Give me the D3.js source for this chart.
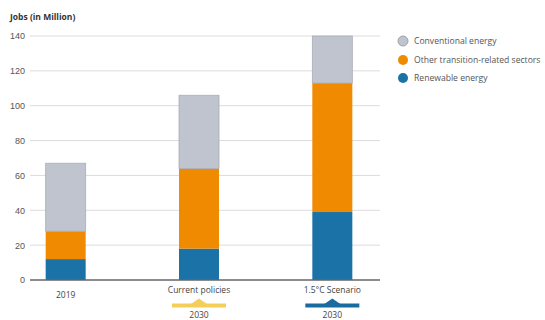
<!DOCTYPE html>
<html><head><meta charset="utf-8">
<script src="https://cdn.jsdelivr.net/npm/d3@7"></script>
<style>body{margin:0;background:#fff;}svg{display:block;font-family:"Open Sans",sans-serif;}</style>
</head><body><svg id="c" width="545" height="320"></svg>
<script>
const categories = ["2019", "Current policies", "1.5°C Scenario"];
const subLabels = ["", "2030", "2030"];
const renewable = [12, 18, 39];
const otherTransition = [16, 46, 74];
const conventional = [39, 42, 27];
const seriesNames = ["Conventional energy", "Other transition-related sectors", "Renewable energy"];
const yTicks = [0, 20, 40, 60, 80, 100, 120, 140];
const colors = {renewable:"#1a72a6", other:"#f08a00", conventional:"#c0c4cf"};
const markerColors = [null, "#f3cf5a", "#1a6c9e"];

const svg = d3.select("#c");
const x = d3.scaleBand().domain(categories).range([0, 400]).paddingInner(0.7).paddingOuter(0.35);
const y = d3.scaleLinear().domain([0, 140]).range([280, 36]);
const xOff = -1;

// gridlines
svg.append("g").selectAll("line").data(yTicks.filter(d=>d>0)).join("line")
  .attr("x1", 30).attr("x2", 380).attr("y1", d=>y(d)).attr("y2", d=>y(d))
  .attr("stroke", "#dcdcdc").attr("stroke-width", 1);

const yAxis = svg.append("g").attr("transform","translate(30,0)")
  .call(d3.axisLeft(y).tickValues(yTicks).tickSize(0).tickPadding(5));
yAxis.select(".domain").remove();
yAxis.selectAll("text").attr("fill","#555").style("font-size","9px");

svg.append("text").attr("x", 10).attr("y", 20).text("Jobs (in Million)")
  .attr("fill","#333").style("font-size","8.5px").style("font-weight","bold");

const data = categories.map((c,i)=>({cat:c, renewable:renewable[i], other:otherTransition[i], conventional:conventional[i]}));
const stack = d3.stack().keys(["renewable","other","conventional"])(data);

const g = svg.append("g");
stack.forEach(layer=>{
  g.selectAll(null).data(layer).join("rect")
    .attr("x", d=>x(d.data.cat)+xOff).attr("width", x.bandwidth())
    .attr("y", d=>y(d[1])).attr("height", d=>y(d[0])-y(d[1]))
    .attr("fill", colors[layer.key])
    .attr("stroke", layer.key==="conventional" ? "#a9adb6" : "none")
    .attr("stroke-width", 0.8);
});

// baseline
svg.append("line").attr("x1",30).attr("x2",380).attr("y1",y(0)).attr("y2",y(0))
  .attr("stroke","#666").attr("stroke-width",1.5);

// category labels
categories.forEach((c,i)=>{
  const cx = x(c)+xOff+x.bandwidth()/2;
  svg.append("text").attr("x",cx).attr("y", i===0?298:293).attr("text-anchor","middle")
    .attr("fill","#444").style("font-size","8.5px").text(c);
  if (markerColors[i]) {
    const mc = markerColors[i];
    svg.append("rect").attr("x",cx-27).attr("y",303.5).attr("width",54).attr("height",4).attr("fill",mc);
    svg.append("path").attr("d",`M${cx-8},304 L${cx},298.5 L${cx+8},304 Z`).attr("fill",mc);
    svg.append("text").attr("x",cx).attr("y",318).attr("text-anchor","middle")
      .attr("fill","#444").style("font-size","8.5px").text(subLabels[i]);
  }
});

// legend
const legColors = [colors.conventional, colors.other, colors.renewable];
const legY = [41, 60, 78];
seriesNames.forEach((n,i)=>{
  svg.append("circle").attr("cx",403).attr("cy",legY[i]).attr("r",5)
    .attr("fill",legColors[i]).attr("stroke", i===0?"#9ea2ab":"none").attr("stroke-width",1);
  svg.append("text").attr("x",414).attr("y",legY[i]+3).attr("fill","#555")
    .style("font-size","8.6px").text(n);
});
</script></body></html>
